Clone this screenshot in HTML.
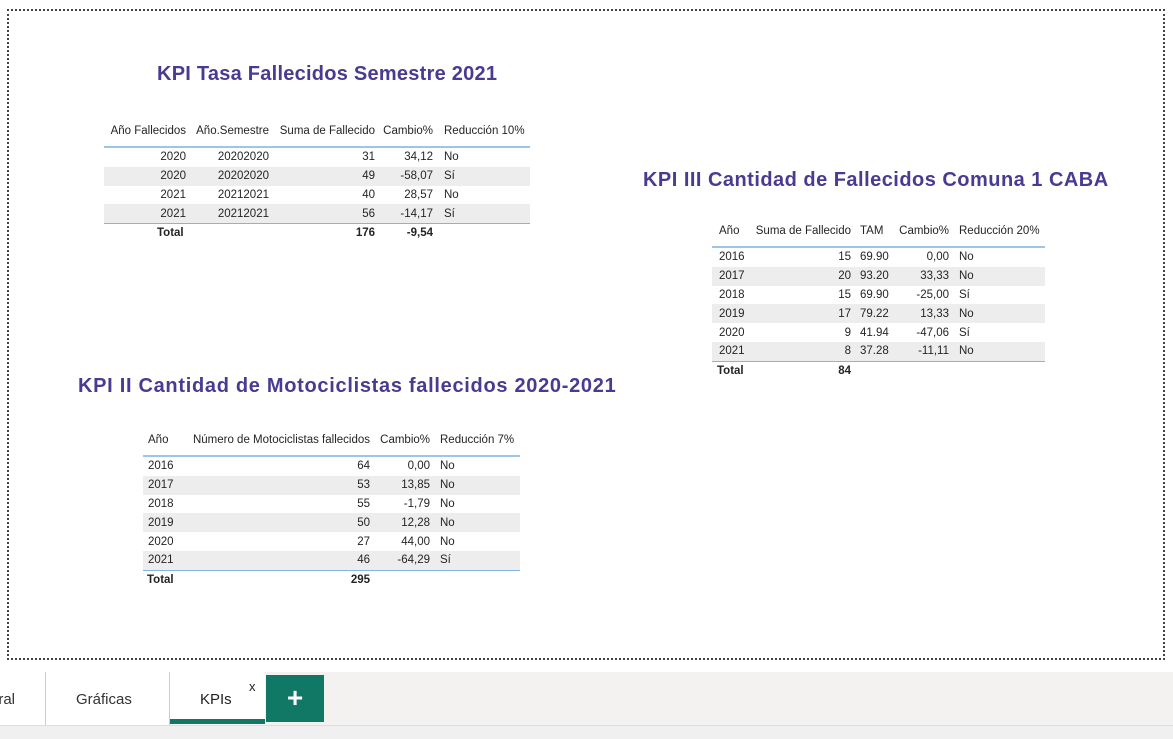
<!DOCTYPE html>
<html><head><meta charset="utf-8"><style>
body{margin:0;width:1173px;height:738px;background:#fff;position:relative;overflow:hidden;font-family:"Liberation Sans",sans-serif;}
.a{position:absolute;white-space:nowrap;}
.t{font-size:11.5px;color:#252423;line-height:14px;}
.title{font-weight:bold;font-size:20px;color:#4b3a91;}
</style></head><body>
<div class="a" style="left:7px;top:9px;width:1154px;height:647px;border:2px dotted #444;"></div>
<div class="a title" style="left:157px;top:63px;letter-spacing:0.25px;">KPI Tasa Fallecidos Semestre 2021</div>
<div class="a title" style="left:643px;top:169px;letter-spacing:0.48px;">KPI III Cantidad de Fallecidos Comuna 1 CABA</div>
<div class="a title" style="left:78px;top:375px;letter-spacing:0.7px;">KPI II Cantidad de Motociclistas fallecidos 2020-2021</div>
<div id="tabs" class="a" style="left:0;top:672px;width:1173px;height:66px;background:#f3f2f1;">
 <div class="a" style="left:0;top:53px;width:1173px;height:13px;border-top:1px solid #ddd;background:#f0f0f0;"></div>
 <div class="a" style="left:0;top:0;width:45px;height:53px;background:#fff;border-right:1px solid #ccc;"><span class="a" style="right:30px;top:19px;font-size:15px;color:#333;">ral</span></div>
 <div class="a" style="left:46px;top:0;width:123px;height:53px;background:#fff;border-right:1px solid #ccc;"><span class="a" style="left:30px;top:19px;font-size:15px;color:#333;">Gráficas</span></div>
 <div class="a" style="left:170px;top:0;width:95px;height:53px;background:#fff;"><span class="a" style="left:30px;top:19px;font-size:15px;color:#222;">KPIs</span><span class="a" style="left:79px;top:7px;font-size:13px;color:#222;">x</span><div class="a" style="left:0;top:47px;width:95px;height:5px;background:#117865;"></div></div>
 <div class="a" style="left:266px;top:3px;width:58px;height:47px;background:#117865;color:#fff;font-size:28px;font-weight:bold;text-align:center;line-height:45px;">+</div>
</div>
<script>
const t1Headers=["Año Fallecidos","Año.Semestre","Suma de Fallecido","Cambio%","Reducción 10%"];
const t1Rows=[["2020","20202020","31","34,12","No"],["2020","20202020","49","-58,07","Sí"],["2021","20212021","40","28,57","No"],["2021","20212021","56","-14,17","Sí"]];
const t1Total=["Total","","176","-9,54",""];
const t2Headers=["Año","Suma de Fallecido","TAM","Cambio%","Reducción 20%"];
const t2Rows=[["2016","15","69.90","0,00","No"],["2017","20","93.20","33,33","No"],["2018","15","69.90","-25,00","Sí"],["2019","17","79.22","13,33","No"],["2020","9","41.94","-47,06","Sí"],["2021","8","37.28","-11,11","No"]];
const t2Total=["Total","84","","",""];
const t3Headers=["Año","Número de Motociclistas fallecidos","Cambio%","Reducción 7%"];
const t3Rows=[["2016","64","0,00","No"],["2017","53","13,85","No"],["2018","55","-1,79","No"],["2019","50","12,28","No"],["2020","27","44,00","No"],["2021","46","-64,29","Sí"]];
const t3Total=["Total","295","",""];

function build(name,x,w,hy,ly,headers,rows,total,cols,totalCols){
  const box=document.createElement('div');box.className='a';
  
  
  box.style.cssText=`left:${x}px;top:${hy-7}px;width:${w}px;height:${(ly-hy+7)+rows.length*18.8+30}px;`;
  document.body.appendChild(box);
  const put=(txt,c,y,bold,nm)=>{
    if(!txt)return;
    const s=document.createElement('div');s.className='a t';s.textContent=txt;
    
    
    if(bold)s.style.fontWeight='bold';
    s.style.top=(y-7)+'px';
    if(c[0]=='r')s.style.right=(w-c[1])+'px';else s.style.left=c[1]+'px';
    box.appendChild(s);
  };
  headers.forEach((h,i)=>put(h,cols[i],8,false,'column-header'));
  const line=document.createElement('div');line.className='a';
  
  
  line.style.cssText=`left:0;top:${ly-hy+7}px;width:${w}px;height:2px;background:#9cc5ea;`;box.appendChild(line);
  const rh=18.8, r0=ly-hy+9;
  rows.forEach((r,j)=>{
    if(j%2==1){const bg=document.createElement('div');bg.className='a';
      
      
      bg.style.cssText=`left:0;top:${r0+j*rh}px;width:${w}px;height:${rh}px;background:#ededed;`;box.appendChild(bg);}
    r.forEach((v,i)=>put(v,cols[i],r0+j*rh+rh/2,false,'table-cell'));
  });
  const bl=document.createElement('div');bl.className='a';
  
  
  bl.style.cssText=`left:0;top:${r0+rows.length*rh}px;width:${w}px;height:1px;background:#7fb6e6;`;box.appendChild(bl);
  total.forEach((v,i)=>put(v,totalCols[i],r0+rows.length*rh+10,true,'total-cell'));
}
build('kpi1-table',104,426,130,146,t1Headers,t1Rows,t1Total,
 [['r',82],['r',165],['r',271],['r',329],['l',340]],
 [['l',53],['r',165],['r',271],['r',329],['l',340]]);
build('kpi3-table',712,333,230,246,t2Headers,t2Rows,t2Total,
 [['l',7],['r',139],['l',148],['r',237],['l',247]],
 [['l',5],['r',139],['l',148],['r',237],['l',247]]);
build('kpi2-table',143,377,439,455,t3Headers,t3Rows,t3Total,
 [['l',5],['r',227],['r',287],['l',297]],
 [['l',4],['r',227],['r',287],['l',297]]);
</script>
</body></html>
